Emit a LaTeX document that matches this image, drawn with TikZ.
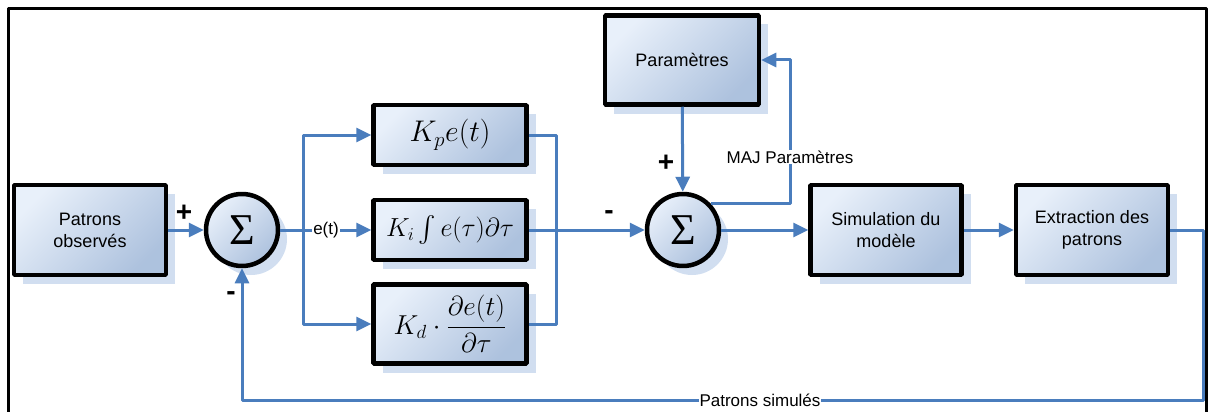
\documentclass[tikz,border=0pt]{standalone}
\usepackage{amsmath}
\usepackage{fontspec}
\setmainfont{Liberation Sans}
\newfontfamily\sigmafont{Liberation Serif}
\usetikzlibrary{positioning,shapes,calc,arrows,arrows.meta,shadows}

\definecolor{linecol}{rgb}{0.29,0.49,0.74}
\definecolor{boxlight}{rgb}{0.91,0.94,0.98}
\definecolor{boxdark}{rgb}{0.68,0.76,0.87}
\definecolor{shadowcol}{rgb}{0.82,0.87,0.94}

\newcommand{\bigeq}[2][1.2]{\scalebox{#1}{$#2$}}

\tikzset{
  block/.style={draw=black, line width=4.5pt, top color=boxlight, bottom color=boxdark,
    shading angle=45, general shadow={fill=shadowcol, shadow xshift=9pt, shadow yshift=-9pt},
    align=center, inner sep=0pt, font=\fontsize{18}{22}\selectfont},
  sumnode/.style={circle, draw=black, line width=4.5pt, top color=boxlight, bottom color=boxdark,
    shading angle=45, general shadow={fill=shadowcol, shadow xshift=9pt, shadow yshift=-9pt},
    minimum size=72pt, inner sep=0pt, font=\sigmafont\fontsize{44}{44}\selectfont},
  flow/.style={draw=linecol, line width=3pt},
  sign/.style={font=\fontsize{28}{28}\selectfont\bfseries},
  tag/.style={fill=white, inner sep=1pt, font=\fontsize{17}{21}\selectfont},
  eqn/.style={font=\fontsize{24}{26}\selectfont},
}

\begin{document}
\begin{tikzpicture}[>={Triangle[length=15pt,width=14pt]}, line join=bevel, x=1pt, y=-1pt]
  \useasboundingbox (0,0) rectangle (1208,412);
  % frame
  \draw[line width=3pt] (8,412) -- (8,9) -- (1206,9) -- (1206,412);
  %%
  % Node: obs
  \node[block, minimum width=152pt, minimum height=90pt] (obs) at (90,230) {Patrons\\observés};
  % Node: sum1
  \node[sumnode] (sum1) at (242,230) {Σ};
  % Node: kp
  \node[block, eqn, minimum width=153pt, minimum height=60pt] (kp) at (450,135) {\bigeq{K_p e(t)}};
  % Node: ki
  \node[block, eqn, minimum width=153pt, minimum height=60pt] (ki) at (450,230) {\bigeq[1.05]{K_i \int e(\tau)\partial\tau}};
  % Node: kd
  \node[block, eqn, minimum width=153pt, minimum height=79pt] (kd) at (450,324) {\bigeq[1.1]{K_d\cdot\dfrac{\partial e(t)}{\partial\tau}}};
  % Node: sum2
  \node[sumnode] (sum2) at (683,230) {Σ};
  % Node: param
  \node[block, minimum width=154pt, minimum height=89pt] (param) at (682,60) {Paramètres};
  % Node: simu
  \node[block, minimum width=151pt, minimum height=90pt] (simu) at (886,230) {Simulation du\\modèle};
  % Node: extr
  \node[block, minimum width=152pt, minimum height=90pt] (extr) at (1092,230) {Extraction des\\patrons};
  %
  \coordinate (split) at (303,230);
  \coordinate (join) at (556,230);
  \coordinate (majx) at (790,157);
  \coordinate (retour) at (1203,400);
  %
  % Edge: obs -> sum1
  \draw[flow,->] (obs) -- (sum1);
  % Edge: sum1 -> kp, ki, kd
  \draw[flow] (sum1) -- (split);
  \draw[flow,->] (split) |- (kp);
  \draw[flow,->] (split) -- (ki);
  \draw[flow,->] (split) |- (kd);
  % Edge: kp, ki, kd -> sum2
  \draw[flow] (kp) -| (join);
  \draw[flow] (kd) -| (join);
  \draw[flow,->] (ki) -- (sum2);
  % Edge: param -> sum2
  \draw[flow,->] (param) -- (sum2);
  % Edge: sum2 -> param
  \draw[flow,->] (sum2.43) -| (majx) |- (param);
  % Edge: sum2 -> simu -> extr
  \draw[flow,->] (sum2) -- (simu);
  \draw[flow,->] (simu) -- (extr);
  % Edge: extr -> sum1
  \draw[flow,->] (extr) -| (retour) -| (sum1);
  %
  % labels
  \node[tag] at (326,230) {e(t)};
  \node[tag] at (790,157) {MAJ Paramètres};
  \node[tag] at (760,400) {Patrons simulés};
  \node[sign] at (184,213) {+};
  \node[sign] at (231,296) {-};
  \node[sign] at (609,215) {-};
  \node[sign] at (666,163) {+};
\end{tikzpicture}
\end{document}
